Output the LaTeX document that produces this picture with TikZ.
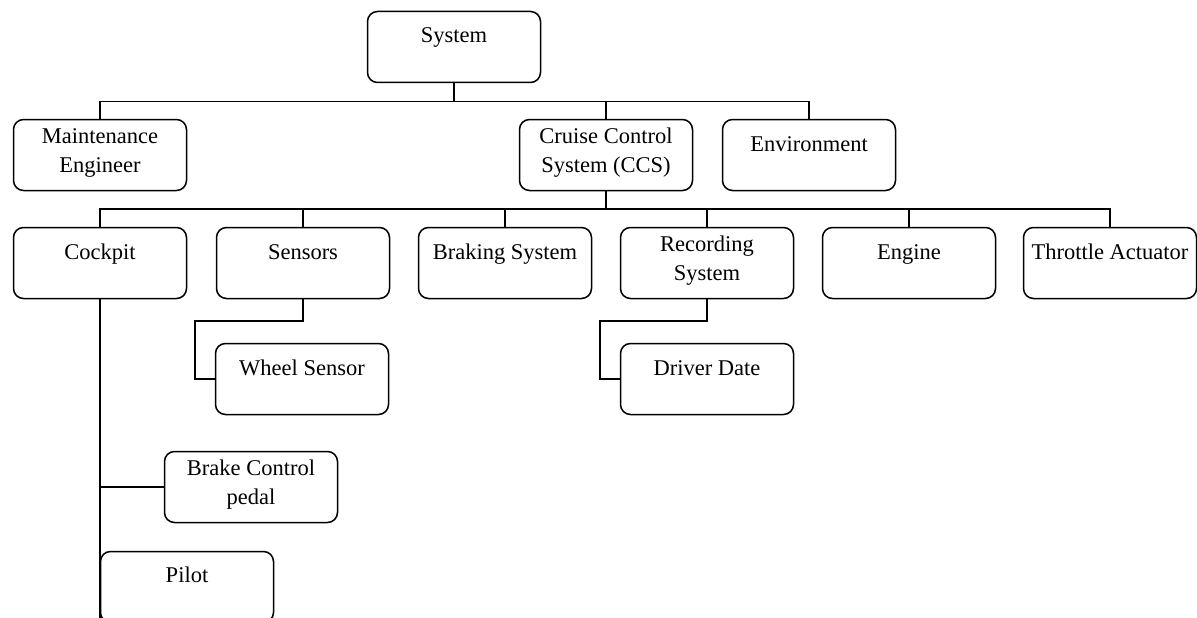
\documentclass[tikz,border=0pt]{standalone}
\usepackage{fontspec}
\setmainfont{Liberation Serif}
\newfontfamily\myserif{Liberation Serif}
\newcommand{\mytwoline}[2]{\begin{tabular}[b]{@{}c@{}}#1\\#2\end{tabular}}
\begin{document}
\begin{tikzpicture}[x=1pt,y=-1pt,
  box/.style={draw, rounded corners=10pt, line width=1.5pt, minimum width=173pt, minimum height=71pt, inner sep=0pt},
  lbl/.style={inner sep=0pt, anchor=base, font=\myserif\fontsize{22.5}{29}\selectfont},
  conn/.style={line width=1.2pt},
  bus/.style={line width=1.6pt}]
\useasboundingbox (0,0) rectangle (1197,618);
% boxes
\node[box] (sys) at (454,47) {};
\node[box] (maint) at (100,155) {};
\node[box] (ccs) at (606,155) {};
\node[box] (env) at (809,155) {};
\node[box] (cockpit) at (100,263) {};
\node[box] (sensors) at (303,263) {};
\node[box] (braking) at (505,263) {};
\node[box] (rec) at (707,263) {};
\node[box] (engine) at (909,263) {};
\node[box] (throttle) at (1110,263) {};
\node[box] (wheel) at (302,379) {};
\node[box] (driver) at (707,379) {};
\node[box] (brake) at (251,487) {};
\node[box] (pilot) at (187,587) {};
% labels
\node[lbl] (tsys) at (454,43) {System};
\node[lbl] (tmaint) at (100,172) {\mytwoline{Maintenance}{Engineer}};
\node[lbl] (tccs) at (606,172) {\mytwoline{Cruise Control}{System (CCS)}};
\node[lbl] (tenv) at (809,151) {Environment};
\node[lbl] (tcockpit) at (100,259) {Cockpit};
\node[lbl] (tsensors) at (303,259) {Sensors};
\node[lbl] (tbraking) at (505,259) {Braking System};
\node[lbl] (trec) at (707,280) {\mytwoline{Recording}{System}};
\node[lbl] (tengine) at (909,259) {Engine};
\node[lbl] (tthrottle) at (1110,259) {Throttle Actuator};
\node[lbl] (twheel) at (302,375) {Wheel Sensor};
\node[lbl] (tdriver) at (707,375) {Driver Date};
\node[lbl] (tbrake) at (251,504) {\mytwoline{Brake Control}{pedal}};
\node[lbl] (tpilot) at (187,582) {Pilot};
% connectors
\draw[conn] (sys.south) -- ++(0,18) -| (maint.north);
\draw[conn] (sys.south) -- ++(0,18) -| (ccs.north);
\draw[conn] (sys.south) -- ++(0,18) -| (env.north);
\foreach \n in {cockpit,sensors,braking,rec,engine,throttle}
  \draw[bus] (ccs.south) -- ++(0,18) -| (\n.north);
\coordinate (sk) at (195,321);
\coordinate (rk) at (600,321);
\coordinate (cend) at (100,625);
\draw[conn] (sensors.south) |- (sk) |- (wheel.west);
\draw[conn] (rec.south) |- (rk) |- (driver.west);
\draw[conn] (cockpit.south) -- (cend);
\draw[conn] (cockpit.south) |- (brake.west);
\end{tikzpicture}
\end{document}
